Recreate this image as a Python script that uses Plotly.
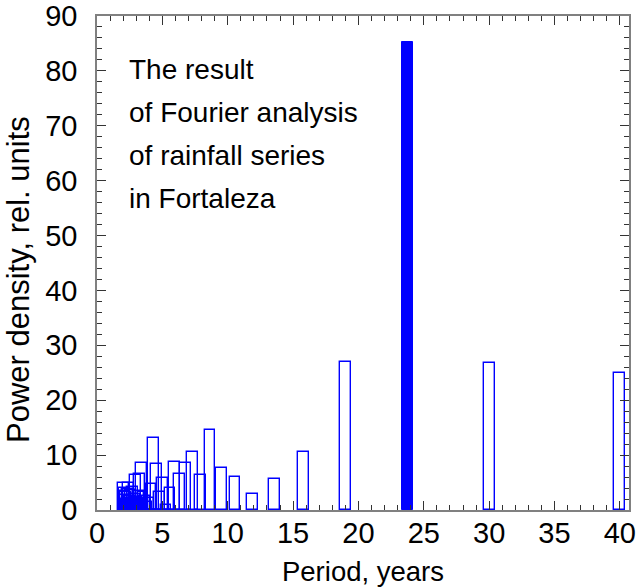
import plotly.graph_objects as go

# Period (years) of each spectral component
periods = [2.02, 2.06, 2.11, 2.16, 2.21, 2.26, 2.32, 2.38, 2.44, 2.50,
           2.57, 2.64, 2.71, 2.79, 2.88, 2.97, 3.06, 3.17, 3.28, 3.39,
           3.52, 3.65, 3.79, 3.96, 4.13, 4.32, 4.52, 4.75, 5.00, 5.28,
           5.59, 5.94, 6.33, 6.79, 7.31, 7.92, 8.64, 9.50, 10.56, 11.88,
           13.57, 15.83, 19.00, 23.75, 30.00, 40.00]
# Power density, rel. units
power = [5.0, 3.5, 4.1, 2.8, 3.2, 2.0, 3.8, 1.5, 5.0, 2.6,
         3.6, 2.2, 4.2, 1.8, 3.0, 6.4, 2.4, 3.4, 6.6, 8.6,
         3.3, 2.6, 1.4, 2.2, 4.7, 13.2, 8.3, 3.3, 5.9, 1.0,
         3.95, 8.8, 6.6, 8.5, 10.5, 6.3, 14.5, 7.6, 6.0, 3.0,
         5.7, 10.6, 27.0, 85.3, 26.8, 24.9]
highlight_period = 23.75

note_lines = ["The result", "of Fourier analysis", "of rainfall series", "in Fortaleza"]
note_y = [80.3, 72.4, 64.6, 56.75]

x_title = "Period, years"
y_title = "Power density, rel. units"

open_x = [p for p in periods if p != highlight_period]
open_y = [v for p, v in zip(periods, power) if p != highlight_period]
fill_x = [p for p in periods if p == highlight_period]
fill_y = [v for p, v in zip(periods, power) if p == highlight_period]

fig = go.Figure()
fig.add_trace(go.Bar(
    x=open_x, y=open_y, width=0.83,
    marker=dict(color="rgba(255,255,255,0)", line=dict(color="#0000ff", width=1.4)),
    showlegend=False,
))
fig.add_trace(go.Bar(
    x=fill_x, y=fill_y, width=0.83,
    marker=dict(color="#0000ff", line=dict(color="#0000ff", width=1)),
    showlegend=False,
))

FONT = "Liberation Sans, Arial, Helvetica, sans-serif"
for txt, yy in zip(note_lines, note_y):
    fig.add_annotation(x=2.3, y=yy, xref="x", yref="y", text=txt,
                       showarrow=False, xanchor="left", yanchor="middle",
                       font=dict(family=FONT, size=28, color="#000000"))

# y-axis title drawn as a rotated annotation so it can sit where the reference has it
fig.add_annotation(x=0, y=0.4656, xref="paper", yref="paper", xshift=-78,
                   text=y_title, textangle=-90, showarrow=False,
                   xanchor="center", yanchor="middle",
                   font=dict(family=FONT, size=31, color="#000000"))

axis_common = dict(
    showline=True, linecolor="#808080", linewidth=1.5, mirror="ticks",
    ticks="inside", tickcolor="#333333", tickwidth=1, showgrid=False,
    zeroline=False, automargin=False, ticklabeloverflow="allow",
    tickfont=dict(family=FONT, size=29, color="#000000"),
)

fig.update_xaxes(range=[0, 40.7], dtick=5, tick0=0, ticklen=9,
                 minor=dict(dtick=1, ticklen=5, ticks="inside", tickcolor="#333333", showgrid=False),
                 ticklabelstandoff=-4,
                 title=dict(text=x_title, font=dict(family=FONT, size=27.5, color="#000000"), standoff=14),
                 **axis_common)
fig.update_yaxes(range=[0, 90], dtick=10, tick0=0, ticklen=9,
                 minor=dict(dtick=2, ticklen=5, ticks="inside", tickcolor="#333333", showgrid=False),
                 ticklabelstandoff=12,
                 **axis_common)

fig.update_layout(
    width=637, height=588,
    margin=dict(l=97, r=8, t=16, b=78),
    paper_bgcolor="white", plot_bgcolor="white",
    barmode="overlay", bargap=0,
)

fig.write_html("out.html", config={"displayModeBar": False},
               post_script="document.body.style.margin='0';")
